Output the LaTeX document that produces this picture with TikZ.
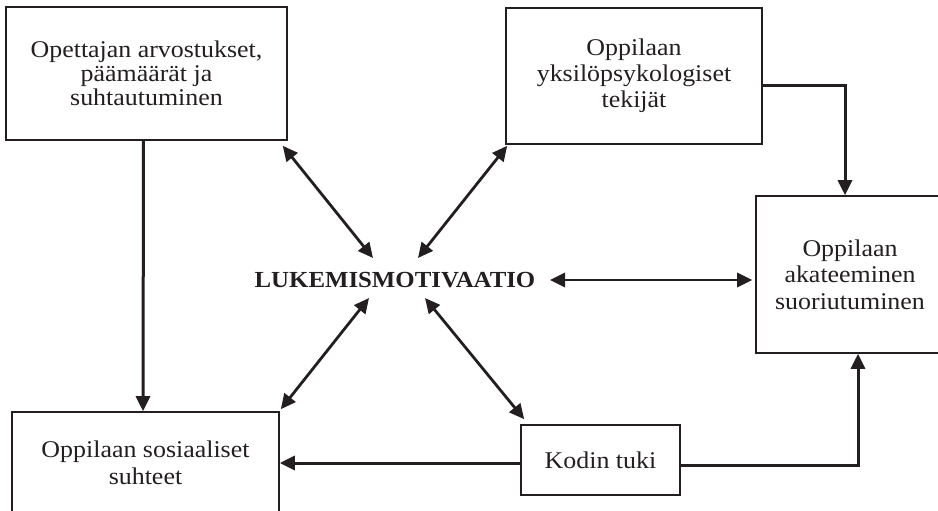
\documentclass[tikz,border=0pt]{standalone}
\usepackage{fontspec}
\setmainfont{Liberation Serif}[FakeStretch=1.08]
\usetikzlibrary{arrows.meta,calc}
\definecolor{ink}{HTML}{231F20}

\begin{document}
\begin{tikzpicture}[x=1pt,y=-1pt,
  box/.style={draw=ink,line width=1.6pt,align=center,inner sep=0pt,text=ink,
              font=\fontsize{24}{24}\selectfont},
  tip/.tip={Triangle[length=15pt,width=14pt]},
  link/.style={draw=ink,line width=3pt,-tip},
  both/.style={draw=ink,line width=2.8pt,tip-tip}]
  \clip (0,0) rectangle (938,511);

  % boxes
  \node[box,minimum width=281pt,minimum height=133pt] (A) at (146.5,73.5)
    {Opettajan arvostukset,\\ päämäärät ja\\ suhtautuminen};
  \node[box,minimum width=256pt,minimum height=136pt,font=\fontsize{24}{26}\selectfont]
    (B) at (634,76)
    {Oppilaan\\ yksilöpsykologiset\\ tekijät};
  \node[box,minimum width=188pt,minimum height=157pt,font=\fontsize{24}{26.5}\selectfont]
    (C) at (850,274.5)
    {Oppilaan\\ akateeminen\\ suoriutuminen};
  \node[box,minimum width=267pt,minimum height=102pt,font=\fontsize{24}{27}\selectfont]
    (D) at (145.5,463)
    {Oppilaan sosiaaliset\\ suhteet};
  \node[box,minimum width=159pt,minimum height=70pt] (E) at (600.5,460)
    {Kodin tuki};

  % central concept
  \node[text=ink,font=\fontsize{23}{26}\selectfont\bfseries] (L) at (395,280)
    {LUKEMISMOTIVAATIO};

  % end points next to the central label
  \coordinate (lnw) at (373,258);
  \coordinate (lne) at (418,258);
  \coordinate (lsw) at (369,298);
  \coordinate (lse) at (425,298);
  \coordinate (le)  at (550,280);
  \coordinate (ew)  at ($(E.west)+(0,3)$);

  % two-way links to the central concept
  \draw[both] ($(A.south east)+(-5,5)$) -- (lnw);
  \draw[both] ($(B.south west)+(2,1)$) -- (lne);
  \draw[both] ($(D.north east)+(1,-2)$) -- (lsw);
  \draw[both] ($(E.north west)+(4,-5)$) -- (lse);
  \draw[both] (le) -- ($(C.west)+(-3,5.5)$);

  % one-way influences
  \draw[link] ($(A.south)+(-3,0)$) -- ($(D.north)+(-2.5,0)$);
  \draw[link] ($(B.east)+(0,10)$) -| ($(C.north)+(-5,0)$);
  \draw[link] ($(E.east)+(0,5)$) -| ($(C.south)+(8,0)$);
  \draw[link] (ew) -- (ew -| D.east);
\end{tikzpicture}
\end{document}
